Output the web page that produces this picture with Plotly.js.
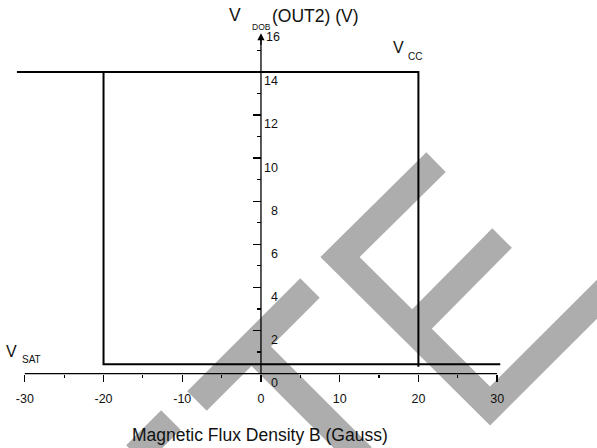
<!DOCTYPE html>
<html>
<head>
<meta charset="utf-8">
<script src="https://cdn.plot.ly/plotly-3.0.1.min.js"></script>
<style>
  html, body { margin: 0; padding: 0; background: #fff; }
  #chart { width: 597px; height: 448px; }
</style>
</head>
<body>
<div id="chart"></div>
<script>
// Hysteresis of the OUT2 output versus magnetic flux density.
const xTickVals = [-30, -20, -10, 0, 10, 20, 30];
const xTickText = ['-30', '-20', '-10', '0', '10', '20', '30'];
const yTickVals = [0, 2, 4, 6, 8, 10, 12, 14];
const yTopLabel = 16;

// Output levels (V)
const vcc = 14;
const vsat = 0.43;

// Upper branch: output high until B reaches the operate point, then drops
const upperB = [-31, 20, 20];
const upperV = [vcc, vcc, 0.32];
// Lower branch: output low until B falls to the release point, then rises
const lowerB = [30.4, -20, -20];
const lowerV = [vsat, vsat, vcc];

// Diagonal watermark strokes, in page pixels
const watermarkStrokes = [
  [[436, 162], [340, 257], [490, 406], [612, 284]],
  [[502, 238], [412, 329]],
  [[310, 288], [197, 401]],
  [[251, 346], [362, 457]],
  [[171, 420], [136, 455]]
];

const W = 597, H = 448;
const M = { l: 13.2, r: 92.1, t: 30.8, b: 69 };
const X_RANGE = [-31.5, 31];
const Y_RANGE = [-0.25, 15.9];
const AXIS_TIP = 15.8;

const toPaperX = px => (px - M.l) / (W - M.l - M.r);
const toPaperY = py => (H - M.b - py) / (H - M.t - M.b);
const dataToPaperY = v => (v - Y_RANGE[0]) / (Y_RANGE[1] - Y_RANGE[0]);
const dataToPaperX = v => (v - X_RANGE[0]) / (X_RANGE[1] - X_RANGE[0]);

const FONT = 'Liberation Sans, Arial, sans-serif';
const INK = '#111';

const padLabel = v => String(v).padStart(2, '\u2007');

const traces = [
  { x: upperB, y: upperV, mode: 'lines', line: { color: '#000', width: 2 }, hoverinfo: 'skip', showlegend: false },
  { x: lowerB, y: lowerV, mode: 'lines', line: { color: '#000', width: 2 }, hoverinfo: 'skip', showlegend: false }
];

const shapes = watermarkStrokes.map(pts => ({
  type: 'path',
  xref: 'paper', yref: 'paper',
  path: pts.map((p, i) => (i ? 'L' : 'M') + toPaperX(p[0]).toFixed(5) + ',' + toPaperY(p[1]).toFixed(5)).join(' '),
  line: { color: '#adadad', width: 27.6 },
  fillcolor: 'rgba(0,0,0,0)',
  layer: 'below'
}));

// horizontal axis line spanning the labelled ticks
shapes.push({
  type: 'line', xref: 'x', yref: 'y',
  x0: xTickVals[0], x1: xTickVals[xTickVals.length - 1], y0: 0, y1: 0,
  line: { color: '#000', width: 1.3 }, layer: 'above'
});
// vertical axis line up to the arrow head
shapes.push({
  type: 'line', xref: 'x', yref: 'y',
  x0: 0, x1: 0, y0: 0, y1: AXIS_TIP - 0.2,
  line: { color: '#000', width: 1.3 }, layer: 'above'
});

function label(text, px, py, size, anchor) {
  return {
    text: text, xref: 'paper', yref: 'paper',
    x: toPaperX(px), y: toPaperY(py),
    xanchor: anchor, yanchor: 'middle',
    showarrow: false, borderpad: 0,
    font: { family: FONT, size: size, color: INK }
  };
}

const annotations = [
  // arrow head closing the vertical axis
  { xref: 'x', yref: 'y', axref: 'x', ayref: 'y', x: 0, y: AXIS_TIP, ax: 0, ay: AXIS_TIP - 1,
    text: ' ', showarrow: true, arrowhead: 2, arrowsize: 1.1, arrowwidth: 1.3, arrowcolor: '#000' },
  { xref: 'paper', yref: 'paper', x: dataToPaperX(0), y: dataToPaperY(yTopLabel), xanchor: 'left', yanchor: 'middle',
    xshift: 4, yshift: -8, text: String(yTopLabel), showarrow: false, borderpad: 0,
    font: { family: FONT, size: 12.5, color: INK } },
  label('V', 242, 15, 17.5, 'right'),
  label('DOB', 251.5, 26.5, 8.5, 'left'),
  label('(OUT2) (V)', 271.5, 15.3, 17.5, 'left'),
  label('V', 405, 47.5, 16, 'right'),
  label('CC', 406.5, 56, 10, 'left'),
  label('V', 18.5, 351.5, 16, 'right'),
  label('SAT', 21.5, 359, 10, 'left'),
  label('Magnetic Flux Density B (Gauss)', 260.5, 435, 17.5, 'center')
];

const layout = {
  width: W, height: H,
  margin: M,
  paper_bgcolor: '#fff',
  plot_bgcolor: 'rgba(0,0,0,0)',
  showlegend: false,
  xaxis: {
    range: X_RANGE,
    anchor: 'free',
    position: dataToPaperY(0),
    showline: false, zeroline: false, showgrid: false,
    tickmode: 'array', tickvals: xTickVals, ticktext: xTickText,
    ticks: 'outside', ticklen: 7, tickwidth: 1.3, tickcolor: '#000',
    minor: { tickmode: 'linear', tick0: -30, dtick: 5, ticks: 'outside', ticklen: 3.5, tickwidth: 1.2, tickcolor: '#000', showgrid: false },
    tickfont: { family: FONT, size: 12.5, color: INK },
    ticklabelstandoff: 6
  },
  yaxis: {
    range: Y_RANGE,
    anchor: 'free',
    position: dataToPaperX(0),
    side: 'right',
    showline: false, zeroline: false, showgrid: false,
    tickmode: 'array', tickvals: yTickVals, ticktext: yTickVals.map(padLabel),
    ticks: 'inside', ticklen: 7.7, tickwidth: 1.3, tickcolor: '#000',
    ticklabelshift: 9,
    ticklabelstandoff: 2,
    minor: { tickmode: 'linear', tick0: 0, dtick: 1, ticks: 'inside', ticklen: 3.7, tickwidth: 1.2, tickcolor: '#000', showgrid: false },
    tickfont: { family: FONT, size: 12.5, color: INK }
  },
  shapes: shapes,
  annotations: annotations
};

Plotly.newPlot('chart', traces, layout, { displayModeBar: false, staticPlot: true });
</script>
</body>
</html>
